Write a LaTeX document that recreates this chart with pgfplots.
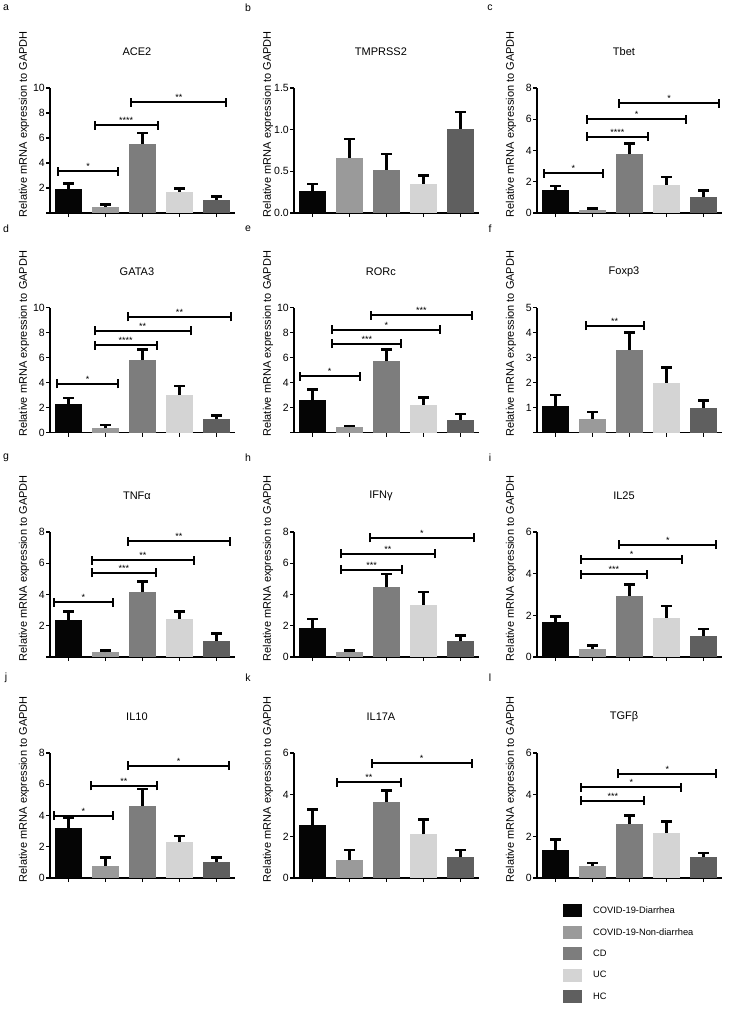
\documentclass[border=0pt]{standalone}
\usepackage{fontspec}
\setmainfont{Liberation Sans}
\usepackage{pgfplots}
\pgfplotsset{compat=1.18}
\usetikzlibrary{calc}

\definecolor{cA}{HTML}{050505}
\definecolor{cB}{HTML}{9A9A9A}
\definecolor{cC}{HTML}{7D7D7D}
\definecolor{cD}{HTML}{D4D4D4}
\definecolor{cE}{HTML}{5F5F5F}

\pgfplotsset{
  panel/.style={
    scale only axis, width=185pt, height=125pt,
    xmin=0.5, xmax=5.5, ymin=0, clip=false,
    axis x line*=bottom, axis y line*=left,
    axis line style={line width=1.8pt, black},
    xtick={1,2,3,4,5}, xticklabels={},
    tick align=outside, major tick length=4pt,
    every tick/.style={line width=1.4pt, black},
    yticklabel style={font=\fontsize{10.5}{12}\selectfont, inner sep=1pt},
    ylabel={Relative mRNA expression to GAPDH},
    ylabel style={at={(axis description cs:-0.14,0.71)}, anchor=center, font=\fontsize{11}{13}\selectfont},
    title style={at={(axis description cs:0.47,1)}, anchor=center, yshift=30pt, font=\fontsize{11}{13}\selectfont},
  }
}

\newcommand{\bb}[4]{\addplot[ybar, bar shift=0pt, bar width=0.75, fill=#4, draw=none,
  legend image code/.code={\fill[#4] (0pt,-6.5pt) rectangle (19pt,6.5pt);},
  error bars/.cd, y dir=plus, y explicit,
  error bar style={line width=2.6pt, black},
  error mark options={line width=2.6pt, black, mark size=5.5pt, rotate=90}]
  coordinates {(#1,#2) +- (0,#3)};}

\newcommand{\sig}[4]{%
  \draw[line width=2pt, black] (axis cs:#1,#3) -- (axis cs:#2,#3);
  \draw[line width=2pt, black] ([yshift=-4.5pt]axis cs:#1,#3) -- ([yshift=4.5pt]axis cs:#1,#3);
  \draw[line width=2pt, black] ([yshift=-4.5pt]axis cs:#2,#3) -- ([yshift=4.5pt]axis cs:#2,#3);
  \node[anchor=base, font=\fontsize{9}{9}\selectfont, inner sep=0pt, yshift=1.5pt] at ($(axis cs:#1,#3)!0.5!(axis cs:#2,#3)$) {#4};
}

\begin{document}
\begin{tikzpicture}
\useasboundingbox (0,0) rectangle (729pt,-1027pt);
\tikzset{lab/.style={font=\fontsize{10.5}{12}\selectfont, anchor=center, inner sep=0pt}}
\node[lab] at (6pt,-8pt) {a};
\node[lab] at (248pt,-8pt) {b};
\node[lab] at (490pt,-8pt) {c};
\node[lab] at (6pt,-229pt) {d};
\node[lab] at (248pt,-229pt) {e};
\node[lab] at (490pt,-229pt) {f};
\node[lab] at (6pt,-458pt) {g};
\node[lab] at (248pt,-458pt) {h};
\node[lab] at (490pt,-458pt) {i};
\node[lab] at (6pt,-678pt) {j};
\node[lab] at (248pt,-678pt) {k};
\node[lab] at (490pt,-678pt) {l};

% a ACE2
\begin{axis}[panel, at={(50pt,-213pt)}, anchor=south west, title={ACE2},
  ymax=10, ytick={0,2,4,6,8,10}, yticklabels={,2,4,6,8,10}]
\bb{1}{1.9}{0.45}{cA}\bb{2}{0.5}{0.2}{cB}\bb{3}{5.55}{0.85}{cC}\bb{4}{1.7}{0.25}{cD}\bb{5}{1.05}{0.25}{cE}
\sig{0.72}{2.34}{3.35}{*}
\sig{1.71}{3.41}{7.0}{****}
\sig{2.7}{5.27}{8.85}{**}
\end{axis}

% b TMPRSS2
\begin{axis}[panel, at={(294pt,-213pt)}, anchor=south west, title={TMPRSS2},
  ymax=1.5, ytick={0,0.5,1,1.5}, yticklabels={0.0,0.5,1.0,1.5}]
\bb{1}{0.27}{0.08}{cA}\bb{2}{0.66}{0.23}{cB}\bb{3}{0.52}{0.19}{cC}\bb{4}{0.35}{0.10}{cD}\bb{5}{1.01}{0.20}{cE}
\end{axis}

% c Tbet
\begin{axis}[panel, at={(537pt,-213pt)}, anchor=south west, title={Tbet},
  ymax=8, ytick={0,2,4,6,8}, yticklabels={0,2,4,6,8}]
\bb{1}{1.45}{0.27}{cA}\bb{2}{0.2}{0.1}{cB}\bb{3}{3.75}{0.7}{cC}\bb{4}{1.82}{0.48}{cD}\bb{5}{1.05}{0.4}{cE}
\sig{0.68}{2.28}{2.53}{*}
\sig{1.85}{3.49}{4.88}{****}
\sig{1.85}{4.54}{6.0}{*}
\sig{2.72}{5.42}{7.02}{*}
\end{axis}

% d GATA3
\begin{axis}[panel, at={(50pt,-432.5pt)}, anchor=south west, title={GATA3},
  ymax=10, ytick={0,2,4,6,8,10}, yticklabels={0,2,4,6,8,10}]
\bb{1}{2.3}{0.45}{cA}\bb{2}{0.38}{0.22}{cB}\bb{3}{5.8}{0.85}{cC}\bb{4}{3.0}{0.72}{cD}\bb{5}{1.07}{0.31}{cE}
\sig{0.7}{2.34}{3.9}{*}
\sig{1.71}{3.38}{7.0}{****}
\sig{1.71}{4.3}{8.14}{**}
\sig{2.6}{5.4}{9.26}{**}
\end{axis}

% e RORc
\begin{axis}[panel, at={(294pt,-432.5pt)}, anchor=south west, title={RORc},
  ymax=10, ytick={0,2,4,6,8,10}, yticklabels={,2,4,6,8,10}]
\bb{1}{2.57}{0.86}{cA}\bb{2}{0.42}{0.10}{cB}\bb{3}{5.7}{0.94}{cC}\bb{4}{2.22}{0.56}{cD}\bb{5}{1.02}{0.46}{cE}
\sig{0.65}{2.28}{4.5}{*}
\sig{1.54}{3.4}{7.12}{***}
\sig{1.54}{4.45}{8.24}{*}
\sig{2.58}{5.3}{9.37}{***}
\end{axis}

% f Foxp3
\begin{axis}[panel, at={(537pt,-432.5pt)}, anchor=south west, title={Foxp3},
  ymax=5, ytick={0,1,2,3,4,5}, yticklabels={,1,2,3,4,5}]
\bb{1}{1.07}{0.43}{cA}\bb{2}{0.56}{0.26}{cB}\bb{3}{3.3}{0.7}{cC}\bb{4}{2.0}{0.6}{cD}\bb{5}{1.0}{0.28}{cE}
\sig{1.82}{3.38}{4.28}{**}
\end{axis}

% g TNFa
\begin{axis}[panel, at={(50pt,-657pt)}, anchor=south west, title={TNFα},
  ymax=8, ytick={0,2,4,6,8}, yticklabels={,2,4,6,8}]
\bb{1}{2.4}{0.5}{cA}\bb{2}{0.3}{0.1}{cB}\bb{3}{4.15}{0.7}{cC}\bb{4}{2.45}{0.45}{cD}\bb{5}{1.05}{0.45}{cE}
\sig{0.6}{2.2}{3.5}{*}
\sig{1.64}{3.36}{5.38}{***}
\sig{1.64}{4.38}{6.2}{**}
\sig{2.6}{5.37}{7.4}{**}
\end{axis}

% h IFNg
\begin{axis}[panel, at={(294pt,-657pt)}, anchor=south west, title={IFNγ},
  ymax=8, ytick={0,2,4,6,8}, yticklabels={0,2,4,6,8}]
\bb{1}{1.85}{0.57}{cA}\bb{2}{0.3}{0.1}{cB}\bb{3}{4.45}{0.85}{cC}\bb{4}{3.35}{0.8}{cD}\bb{5}{1.02}{0.36}{cE}
\sig{1.77}{3.43}{5.6}{***}
\sig{1.77}{4.3}{6.6}{**}
\sig{2.55}{5.36}{7.63}{*}
\end{axis}

% i IL25
\begin{axis}[panel, at={(537pt,-657pt)}, anchor=south west, title={IL25},
  ymax=6, ytick={0,2,4,6}, yticklabels={0,2,4,6}]
\bb{1}{1.7}{0.25}{cA}\bb{2}{0.38}{0.17}{cB}\bb{3}{2.95}{0.53}{cC}\bb{4}{1.88}{0.57}{cD}\bb{5}{1.03}{0.32}{cE}
\sig{1.69}{3.47}{3.97}{***}
\sig{1.69}{4.42}{4.69}{*}
\sig{2.72}{5.35}{5.4}{*}
\end{axis}

% j IL10
\begin{axis}[panel, at={(50pt,-878pt)}, anchor=south west, title={IL10},
  ymax=8, ytick={0,2,4,6,8}, yticklabels={0,2,4,6,8}]
\bb{1}{3.2}{0.65}{cA}\bb{2}{0.8}{0.5}{cB}\bb{3}{4.6}{1.1}{cC}\bb{4}{2.3}{0.4}{cD}\bb{5}{1.0}{0.3}{cE}
\sig{0.6}{2.2}{4.0}{*}
\sig{1.6}{3.4}{5.9}{**}
\sig{2.6}{5.35}{7.2}{*}
\end{axis}

% k IL17A
\begin{axis}[panel, at={(294pt,-878pt)}, anchor=south west, title={IL17A},
  ymax=6, ytick={0,2,4,6}, yticklabels={0,2,4,6}]
\bb{1}{2.55}{0.75}{cA}\bb{2}{0.85}{0.5}{cB}\bb{3}{3.65}{0.55}{cC}\bb{4}{2.1}{0.7}{cD}\bb{5}{1.0}{0.35}{cE}
\sig{1.65}{3.4}{4.6}{**}
\sig{2.6}{5.3}{5.5}{*}
\end{axis}

% l TGFb
\begin{axis}[panel, at={(537pt,-878pt)}, anchor=south west, title={TGFβ},
  ymax=6, ytick={0,2,4,6}, yticklabels={0,2,4,6},
  legend style={at={(axis description cs:0.14,-0.21)}, anchor=north west, draw=none, fill=none,
    font=\fontsize{9.3}{11}\selectfont, row sep=8.5pt, inner sep=0pt,
    /tikz/every odd column/.append style={column sep=9pt}},
  legend cell align=left]
\bb{1}{1.35}{0.5}{cA}\bb{2}{0.6}{0.12}{cB}\bb{3}{2.6}{0.4}{cC}\bb{4}{2.15}{0.55}{cD}\bb{5}{1.0}{0.2}{cE}
\sig{1.7}{3.4}{3.7}{***}
\sig{1.7}{4.4}{4.35}{*}
\sig{2.7}{5.35}{5.0}{*}
\legend{COVID-19-Diarrhea,COVID-19-Non-diarrhea,CD,UC,HC}
\end{axis}
\end{tikzpicture}
\end{document}
